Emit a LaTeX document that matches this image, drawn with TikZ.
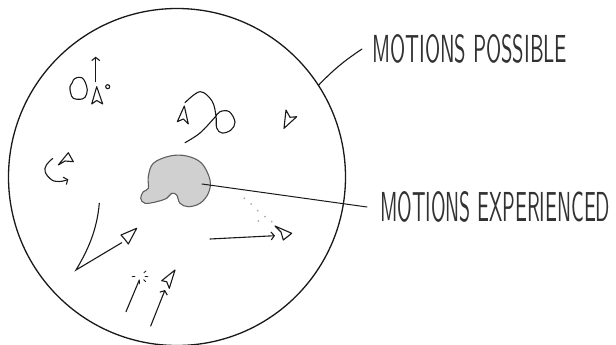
\documentclass[tikz,border=0pt]{standalone}
\usepackage{tikz}
\usepackage{graphicx}
\usetikzlibrary{calc,arrows.meta}
\definecolor{inkBlack}{RGB}{25,25,25}
\definecolor{inkGrey}{RGB}{50,50,50}
\definecolor{blobGrey}{RGB}{208,208,208}
\definecolor{blobEdge}{RGB}{95,95,95}
\definecolor{trailGrey}{RGB}{170,170,170}
\newcommand{\HandLabel}[3]{\resizebox{#1pt}{#2pt}{\sffamily #3}}
\newcommand{\Dart}[4]{\draw[ink,line join=round] #1 -- #2 -- #3 -- #4 -- cycle;}
\tikzset{
  ink/.style={draw=inkBlack,line width=1.1pt,line cap=round},
  flick/.style={ink,-{Straight Barb[length=3.2pt,width=8pt]}},
  tag/.style={inner ysep=0pt,anchor=west,text=inkGrey}
}

\begin{document}
\begin{tikzpicture}[x=1pt,y=-1pt]
\useasboundingbox (0,0) rectangle (616,345);
\node[circle,draw=inkBlack,line width=1.3pt,minimum size=337pt,inner sep=0pt] (world) at (177,177) {};
\node[tag,inner xsep=10pt] (possible) at (362,49) {\HandLabel{195}{28}{MOTIONS POSSIBLE}};
\node[tag,inner xsep=13pt] (experienced) at (367,207) {\HandLabel{230}{30}{MOTIONS EXPERIENCED}};
\draw[ink] (world.33) to[bend left=6] (possible.west);
\draw[fill=blobGrey,draw=blobEdge,line width=1.1pt] plot[smooth cycle,tension=0.6] coordinates {(148.3,176.7) (153.3,163.3) (170,156) (186.7,156) (201.7,163.3) (210,180) (208.3,193.3) (200,203.3) (188.3,206.7) (180,203.3) (176.7,195) (171.7,193.3) (166.7,198.3) (156.7,201.7) (145,203.3) (140.7,198.3) (143.3,191.7) (148.3,188.3)};
\coordinate (core) at (202,184);
\draw[ink,line width=1pt] (core) -- (experienced.west);
\foreach \p in {(244.3,198.3),(251,204),(257.7,210.7),(265,216.7),(258.3,221),(271.7,221.7)}
  \fill[trailGrey] \p circle (1);
% upper left
\draw[ink] plot[smooth cycle,tension=0.6] coordinates {(73.3,80) (76.7,77.7) (81.7,77.7) (85,81.7) (87.3,90) (85,97.3) (80,99.3) (73.3,98.3) (70.7,93.3) (70,86.7) (72.3,82.7)};
\draw[flick] (95.7,81.7) -- (95.7,56.7);
\Dart{(96.7,86.7)}{(91.7,104)}{(96.7,100.5)}{(102.7,104)}
\draw[ink] (107.7,86.7) circle (2);
% loop
\draw[ink] plot[smooth,tension=0.6] coordinates {(185,102.7) (200,91.7) (212,101) (216,116) (216.7,128) (222,133) (231,130) (235,122) (229.3,111.7) (220,111.7) (214,118.3) (200,133) (185,142.7)};
\Dart{(184.3,106)}{(177.3,121.7)}{(183.3,119)}{(188.3,124)}
\Dart{(284,128.3)}{(286,110)}{(290,117.3)}{(296.7,116.7)}
% curl
\draw[flick] plot[smooth,tension=0.8] coordinates {(52.7,158.5) (45,168.3) (50,178.5) (59,181.5) (68.3,179.3)};
\Dart{(68.3,152.7)}{(58.3,165)}{(65,161)}{(73.3,161.7)}
% lower
\draw[ink] (99.3,203.3) .. controls (97,230) and (88,250) .. (76,270) -- (121.7,242.7);
\Dart{(136.7,228.3)}{(121,235)}{(125,239.5)}{(128.3,244)}
\draw[flick] (210,239) -- (275,235.7);
\Dart{(291.7,233.3)}{(275,226)}{(281,232)}{(283.3,240)}
\foreach \a/\r in {175/5,95/5,45/5,5/5,-40/5}
  \draw[ink,line width=0.8pt] ($(140,276)+(\a:\r)$) -- ($(140,276)+(\a:\r+3)$);
\draw[ink] (126,311.7) -- (139.3,280);
\draw[flick] (150.7,326) -- (165,290);
\Dart{(175,270)}{(161.7,280.7)}{(166.7,281.7)}{(169.3,288.3)}
\end{tikzpicture}
\end{document}
